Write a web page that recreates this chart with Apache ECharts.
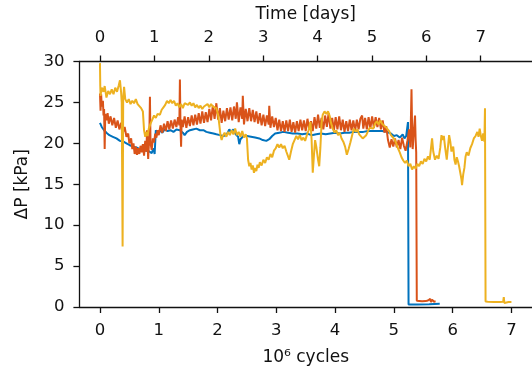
<!DOCTYPE html>
<html>
<head>
<meta charset="utf-8">
<script src="https://cdn.jsdelivr.net/npm/echarts@6/dist/echarts.min.js"></script>
<style>
  html, body { margin: 0; padding: 0; background: #fff; }
  #chart { width: 532px; height: 371px; }
</style>
</head>
<body>
<div id="chart"></div>
<script>
// points are [10^6 cycles, dP in kPa]
const blueData = [
  [0, 22.5], [0.03, 22.0], [0.07, 21.6], [0.11, 21.3], [0.16, 21.0], [0.22, 20.8], [0.28, 20.6],
  [0.34, 20.3], [0.4, 20.2], [0.45, 20.0], [0.5, 19.8], [0.56, 19.6], [0.62, 19.5], [0.68, 19.3],
  [0.74, 19.2], [0.79, 19.1], [0.84, 19.0], [0.88, 18.8], [0.91, 19.4], [0.93, 18.7], [0.95, 21.6],
  [0.98, 21.3], [1.02, 21.6], [1.06, 21.3], [1.1, 21.7], [1.15, 21.5], [1.2, 21.6], [1.25, 21.4],
  [1.3, 21.7], [1.36, 21.6], [1.41, 21.3], [1.44, 21.0], [1.48, 21.4], [1.53, 21.6], [1.58, 21.7],
  [1.64, 21.8], [1.7, 21.6], [1.76, 21.6], [1.81, 21.4], [1.87, 21.3], [1.93, 21.2], [1.98, 21.1],
  [2.04, 21.0], [2.1, 20.9], [2.15, 21.0], [2.2, 21.7], [2.23, 21.4], [2.27, 21.7], [2.31, 21.1],
  [2.35, 20.8], [2.37, 19.9], [2.39, 20.5], [2.41, 20.4], [2.44, 20.9], [2.5, 20.9], [2.57, 20.8],
  [2.64, 20.7], [2.71, 20.6], [2.77, 20.4], [2.83, 20.3], [2.88, 20.5], [2.93, 20.9], [2.98, 21.2],
  [3.05, 21.3], [3.12, 21.4], [3.2, 21.3], [3.28, 21.2], [3.36, 21.2], [3.44, 21.1], [3.52, 21.2],
  [3.6, 21.0], [3.68, 21.1], [3.76, 21.2], [3.84, 21.1], [3.92, 21.2], [4.0, 21.3], [4.08, 21.2],
  [4.16, 21.3], [4.24, 21.3], [4.32, 21.4], [4.4, 21.4], [4.48, 21.4], [4.56, 21.5], [4.64, 21.5],
  [4.72, 21.5], [4.8, 21.5], [4.88, 21.4], [4.95, 21.2], [5.0, 20.9], [5.05, 21.0], [5.1, 20.7],
  [5.15, 21.1], [5.18, 20.6], [5.21, 20.9], [5.24, 22.6], [5.25, 0.3], [5.4, 0.3], [5.6, 0.33],
  [5.78, 0.4]
]
const orangeData = [
  [0, 26.1], [0.01, 24.0], [0.02, 26.0], [0.03, 24.5], [0.05, 25.2], [0.06, 23.4], [0.07, 24.2],
  [0.08, 19.3], [0.09, 23.6], [0.11, 22.8], [0.13, 23.7], [0.15, 22.4], [0.18, 23.3], [0.21, 22.2],
  [0.24, 23.1], [0.27, 21.9], [0.3, 22.8], [0.33, 21.7], [0.36, 22.5], [0.39, 21.3], [0.42, 22.0],
  [0.45, 20.8], [0.48, 21.2], [0.5, 20.0], [0.53, 20.6], [0.55, 19.3], [0.57, 20.0], [0.59, 18.7],
  [0.61, 19.6], [0.63, 18.6], [0.65, 19.4], [0.67, 18.7], [0.69, 19.7], [0.71, 18.9], [0.73, 19.9],
  [0.75, 18.5], [0.77, 20.3], [0.79, 19.0], [0.8, 21.6], [0.82, 18.1], [0.84, 21.0], [0.85, 25.7],
  [0.86, 20.0], [0.88, 19.2], [0.9, 20.6], [0.92, 20.1], [0.94, 21.2], [0.96, 20.7], [0.98, 21.6],
  [1.0, 21.0], [1.03, 22.2], [1.06, 21.3], [1.09, 22.4], [1.12, 21.5], [1.15, 22.7], [1.18, 21.7],
  [1.21, 22.8], [1.24, 21.8], [1.27, 22.9], [1.3, 22.0], [1.33, 23.2], [1.35, 22.2], [1.36, 27.8],
  [1.37, 22.0], [1.38, 19.6], [1.39, 22.9], [1.41, 22.0], [1.44, 23.3], [1.47, 21.9], [1.5, 23.2],
  [1.53, 22.1], [1.56, 23.4], [1.59, 22.2], [1.62, 23.5], [1.65, 22.3], [1.68, 23.7], [1.71, 22.4],
  [1.74, 23.9], [1.77, 22.5], [1.8, 23.8], [1.83, 22.6], [1.86, 24.2], [1.89, 22.8], [1.92, 24.6],
  [1.95, 23.0], [1.98, 24.9], [2.01, 22.9], [2.04, 24.3], [2.07, 22.5], [2.1, 24.0], [2.13, 22.7],
  [2.16, 24.3], [2.19, 22.9], [2.22, 24.4], [2.25, 22.8], [2.28, 24.5], [2.31, 23.0], [2.33, 25.0],
  [2.36, 22.6], [2.39, 24.4], [2.42, 23.0], [2.43, 25.8], [2.45, 22.3], [2.48, 24.2], [2.51, 22.7],
  [2.54, 24.3], [2.57, 22.7], [2.6, 24.1], [2.63, 22.6], [2.66, 23.9], [2.69, 22.4], [2.72, 23.7],
  [2.75, 22.2], [2.78, 23.5], [2.81, 22.1], [2.84, 23.4], [2.87, 22.3], [2.88, 24.6], [2.9, 21.9],
  [2.93, 23.3], [2.96, 22.0], [2.99, 23.1], [3.02, 21.6], [3.05, 22.9], [3.08, 21.5], [3.11, 22.7],
  [3.14, 21.4], [3.17, 22.8], [3.2, 21.5], [3.23, 22.9], [3.26, 21.4], [3.29, 22.6], [3.32, 21.3],
  [3.35, 22.7], [3.38, 21.5], [3.41, 22.9], [3.44, 21.6], [3.47, 22.8], [3.5, 21.5], [3.53, 23.0],
  [3.56, 21.7], [3.59, 22.7], [3.62, 21.5], [3.65, 23.2], [3.68, 21.8], [3.71, 23.5], [3.74, 21.9],
  [3.77, 23.1], [3.8, 21.7], [3.83, 23.4], [3.86, 22.0], [3.89, 23.7], [3.92, 21.8], [3.95, 23.1],
  [3.98, 21.6], [4.01, 23.2], [4.04, 21.7], [4.07, 23.3], [4.1, 21.6], [4.13, 22.9], [4.16, 21.4],
  [4.19, 22.7], [4.22, 21.5], [4.25, 22.9], [4.28, 21.6], [4.31, 22.8], [4.34, 21.5], [4.37, 22.9],
  [4.4, 21.7], [4.43, 23.0], [4.46, 23.4], [4.48, 21.8], [4.51, 23.1], [4.54, 21.7], [4.57, 23.2],
  [4.6, 21.8], [4.63, 23.3], [4.66, 21.9], [4.69, 23.2], [4.72, 22.0], [4.75, 23.1], [4.78, 21.7],
  [4.81, 22.8], [4.84, 21.3], [4.87, 22.1], [4.9, 20.4], [4.93, 19.5], [4.96, 20.5], [4.99, 19.6],
  [5.02, 20.6], [5.05, 19.5], [5.08, 20.4], [5.11, 19.3], [5.14, 20.7], [5.17, 19.7], [5.2, 19.1],
  [5.23, 20.3], [5.26, 21.7], [5.28, 19.5], [5.3, 26.6], [5.31, 22.0], [5.32, 19.3], [5.34, 21.5],
  [5.36, 23.4], [5.37, 20.5], [5.38, 18.9], [5.39, 0.75], [5.42, 0.75], [5.48, 0.7], [5.54, 0.72],
  [5.58, 0.8], [5.62, 1.0], [5.63, 0.6], [5.65, 0.9], [5.68, 0.65], [5.71, 0.7]
]
const yellowData = [
  [0, 29.8], [0.005, 27.0], [0.01, 25.8], [0.03, 26.8], [0.06, 26.3], [0.08, 27.0], [0.11, 25.6],
  [0.14, 26.4], [0.17, 26.0], [0.2, 26.6], [0.23, 26.0], [0.26, 26.8], [0.29, 26.3], [0.32, 27.1],
  [0.34, 27.7], [0.36, 26.2], [0.37, 25.0], [0.385, 7.4], [0.395, 25.5], [0.41, 26.9], [0.43, 25.4],
  [0.46, 25.0], [0.49, 25.4], [0.52, 24.8], [0.55, 25.2], [0.58, 24.9], [0.61, 25.4], [0.64, 24.8],
  [0.67, 25.0], [0.7, 24.3], [0.73, 23.9], [0.75, 21.6], [0.77, 20.8], [0.79, 21.4], [0.81, 20.9],
  [0.83, 21.8], [0.86, 22.4], [0.89, 22.9], [0.92, 23.4], [0.95, 23.1], [0.98, 23.6], [1.02, 23.5],
  [1.05, 24.1], [1.08, 24.4], [1.11, 24.7], [1.14, 25.2], [1.17, 24.9], [1.2, 25.3], [1.23, 24.9],
  [1.26, 25.2], [1.29, 24.6], [1.32, 24.9], [1.35, 24.4], [1.38, 24.8], [1.41, 24.3], [1.44, 24.9],
  [1.47, 25.1], [1.5, 24.7], [1.53, 25.0], [1.56, 24.6], [1.59, 24.9], [1.62, 24.4], [1.65, 24.7],
  [1.68, 24.3], [1.71, 24.6], [1.74, 24.2], [1.77, 24.5], [1.8, 24.3], [1.83, 24.8], [1.86, 24.4],
  [1.89, 24.8], [1.92, 24.5], [1.95, 24.7], [1.98, 24.3], [2.01, 23.5], [2.03, 22.3], [2.05, 21.0],
  [2.07, 20.4], [2.09, 20.9], [2.12, 21.3], [2.15, 20.8], [2.18, 21.4], [2.21, 21.0], [2.24, 21.6],
  [2.27, 21.1], [2.3, 21.8], [2.33, 21.0], [2.36, 21.4], [2.39, 20.8], [2.42, 21.5], [2.45, 20.7],
  [2.48, 21.1], [2.5, 20.6], [2.52, 18.0], [2.54, 17.2], [2.56, 17.6], [2.58, 16.8], [2.6, 17.3],
  [2.62, 16.4], [2.64, 17.0], [2.66, 16.6], [2.68, 17.4], [2.7, 17.0], [2.72, 17.7], [2.75, 17.3],
  [2.78, 18.0], [2.81, 17.6], [2.84, 18.3], [2.87, 18.0], [2.9, 18.7], [2.93, 18.3], [2.96, 19.1],
  [2.99, 19.4], [3.02, 19.9], [3.05, 19.5], [3.08, 19.9], [3.11, 19.4], [3.14, 19.7], [3.17, 19.0],
  [3.2, 18.4], [3.22, 18.0], [3.25, 19.0], [3.28, 19.9], [3.31, 20.4], [3.34, 20.9], [3.37, 20.5],
  [3.4, 21.0], [3.43, 20.4], [3.46, 20.7], [3.49, 20.3], [3.52, 21.0], [3.55, 21.6], [3.58, 22.6],
  [3.6, 20.5], [3.62, 16.4], [3.64, 18.5], [3.66, 20.4], [3.68, 19.6], [3.71, 18.0], [3.73, 17.2],
  [3.75, 19.5], [3.77, 22.5], [3.79, 23.5], [3.82, 23.9], [3.85, 23.6], [3.88, 23.9], [3.91, 23.3],
  [3.93, 22.5], [3.96, 21.8], [3.99, 21.3], [4.02, 21.6], [4.05, 21.0], [4.08, 21.3], [4.11, 20.6],
  [4.14, 20.2], [4.17, 19.6], [4.2, 18.6], [4.23, 19.3], [4.26, 20.1], [4.29, 21.0], [4.32, 21.8],
  [4.35, 21.4], [4.38, 21.7], [4.41, 21.1], [4.44, 21.3], [4.47, 20.6], [4.5, 20.4], [4.53, 21.0],
  [4.56, 21.5], [4.59, 21.9], [4.62, 22.1], [4.65, 21.8], [4.68, 22.4], [4.71, 22.7], [4.74, 22.3],
  [4.77, 22.8], [4.8, 22.4], [4.83, 22.6], [4.86, 22.0], [4.89, 21.8], [4.92, 21.5], [4.95, 21.0],
  [4.98, 21.2], [5.01, 20.5], [5.04, 20.0], [5.07, 19.4], [5.1, 18.9], [5.13, 18.3], [5.16, 17.9],
  [5.19, 17.6], [5.22, 17.9], [5.25, 17.2], [5.28, 17.5], [5.31, 16.8], [5.34, 17.2], [5.37, 16.9],
  [5.4, 17.5], [5.43, 17.2], [5.46, 17.8], [5.49, 17.5], [5.52, 18.1], [5.55, 17.8], [5.58, 18.4],
  [5.61, 18.0], [5.63, 19.3], [5.65, 20.6], [5.67, 19.0], [5.7, 18.0], [5.73, 18.5], [5.76, 18.1],
  [5.79, 19.5], [5.81, 21.0], [5.83, 20.4], [5.85, 20.9], [5.87, 19.6], [5.9, 18.0], [5.92, 19.5],
  [5.94, 21.0], [5.96, 20.2], [5.98, 19.0], [6.01, 19.6], [6.03, 18.0], [6.05, 17.4], [6.07, 18.3],
  [6.09, 17.8], [6.11, 17.2], [6.13, 16.4], [6.15, 15.6], [6.16, 14.9], [6.18, 16.2], [6.2, 17.0],
  [6.22, 18.4], [6.24, 18.9], [6.27, 18.5], [6.3, 19.4], [6.33, 19.9], [6.36, 20.6], [6.39, 20.9],
  [6.42, 21.4], [6.44, 20.8], [6.46, 21.8], [6.48, 20.9], [6.5, 20.3], [6.52, 21.2], [6.54, 20.2],
  [6.55, 24.3], [6.56, 0.67], [6.6, 0.65], [6.7, 0.62], [6.8, 0.6], [6.86, 0.65], [6.87, 1.2],
  [6.88, 0.5], [6.9, 0.62], [6.95, 0.6], [7.0, 0.6]
]
const cycleTicks = [0, 1, 2, 3, 4, 5, 6, 7]
const dayTicks = [0, 1, 2, 3, 4, 5, 6, 7]

const DAYS_PER_MCYCLE = 1.0807
const xMin = -0.35
const xMax = 7.35
const ink = '#111'
const font = 'DejaVu Sans'

const chart = echarts.init(document.getElementById('chart'), null, { renderer: 'canvas' })

const axisCommon = {
  type: 'value',
  axisLine: { show: true, onZero: false, lineStyle: { color: ink, width: 1.3 } },
  axisTick: { show: true, inside: false, length: 6, lineStyle: { color: ink, width: 1.3 } },
  splitLine: { show: false },
  nameTextStyle: { color: ink, fontFamily: font, fontSize: 17 }
}

const lineSeries = (name, data, color) => ({
  name: name,
  type: 'line',
  data: data,
  xAxisIndex: 0,
  showSymbol: false,
  symbol: 'none',
  lineStyle: { color: color, width: 2 },
  itemStyle: { color: color }
})

const option = {
  animation: false,
  backgroundColor: '#fff',
  grid: { left: 79.4, right: -1.4, top: 61.5, bottom: 61.5, containLabel: false },
  xAxis: [
    Object.assign({}, axisCommon, {
      position: 'bottom',
      min: xMin,
      max: xMax,
      name: '10⁶ cycles',
      nameLocation: 'middle',
      nameGap: 42,
      axisTick: Object.assign({}, axisCommon.axisTick, { customValues: cycleTicks }),
      axisLabel: { customValues: cycleTicks, margin: 15, color: ink, fontFamily: font, fontSize: 16.5 }
    }),
    Object.assign({}, axisCommon, {
      position: 'top',
      min: xMin * DAYS_PER_MCYCLE,
      max: xMax * DAYS_PER_MCYCLE,
      name: 'Time [days]',
      nameLocation: 'middle',
      nameGap: 38,
      axisTick: Object.assign({}, axisCommon.axisTick, { customValues: dayTicks }),
      axisLabel: { customValues: dayTicks, margin: 15, color: ink, fontFamily: font, fontSize: 16.5 }
    })
  ],
  yAxis: Object.assign({}, axisCommon, {
    position: 'left',
    min: 0,
    max: 30,
    interval: 5,
    name: 'ΔP [kPa]',
    nameLocation: 'middle',
    nameGap: 48,
    axisLabel: { margin: 15, color: ink, fontFamily: font, fontSize: 16.5 }
  }),
  series: [
    lineSeries('blue', blueData, '#0072BD'),
    lineSeries('orange', orangeData, '#D95319'),
    lineSeries('yellow', yellowData, '#EDB120')
  ]
}

chart.setOption(option)
</script>
</body>
</html>
